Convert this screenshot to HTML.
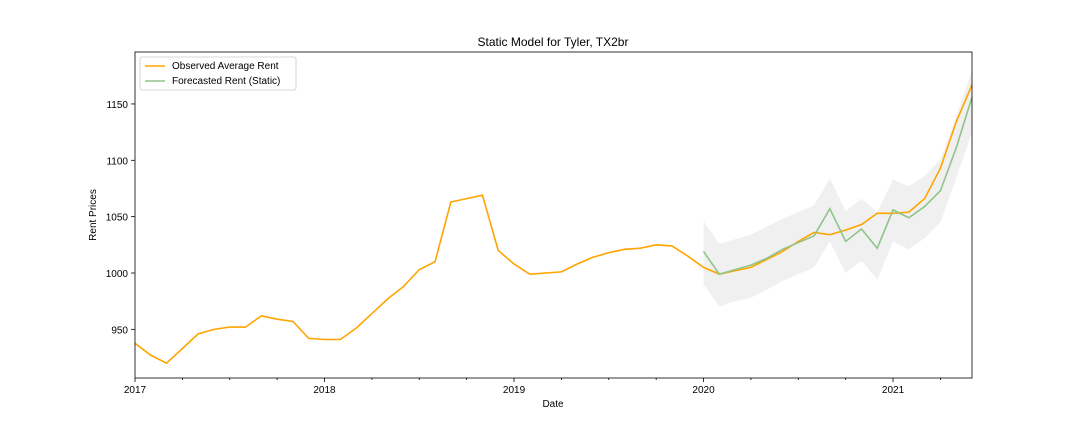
<!DOCTYPE html>
<html><head><meta charset="utf-8"><style>
body{margin:0;background:#fff;}
svg{display:block;font-family:"Liberation Sans","DejaVu Sans",sans-serif;}
</style></head><body>
<svg id="chart" width="1080" height="432"></svg>
<script>
const observed=[937.6,927,920,933,946,950,952,952,962,959,957,942,941,941,951,964,977,988,1003,1010,1063,1066,1069,1020,1008,999,1000,1001,1008,1014,1018,1021,1022,1025,1024,1015,1005,999,1002,1005,1012,1019,1028,1036,1034,1038,1043,1053,1053,1054,1066,1093,1134,1167];
const forecast=[1019,999,1003,1007,1013,1021,1027,1033,1057,1028,1039,1022,1056,1049,1059,1073,1111,1156];
const upper=[1046,1026,1030,1034,1041,1048,1054,1060,1084,1055,1066,1054,1083,1077,1086,1101,1139,1180];
const lower=[990,970,975,978,985,993,999,1005,1028,1000,1011,994,1028,1021,1031,1045,1084,1125];
const forecastStart=36;
const yTicks=[950,1000,1050,1100,1150];
const xYears=["2017","2018","2019","2020","2021"];

const NS="http://www.w3.org/2000/svg";
const svg=document.getElementById('chart');
const L=135,R=972,T=52,B=378;
const x=i=>L+i*(R-L)/53;
const y=v=>273-(v-1000)*1.127;
function el(t,a,p){const e=document.createElementNS(NS,t);for(const k in a)e.setAttribute(k,a[k]);(p||svg).appendChild(e);return e;}

const band=el('path',{d:upper.map((v,i)=>(i?'L':'M')+x(forecastStart+i)+','+y(v)).join('')+lower.map((v,i)=>i).reverse().map(i=>'L'+x(forecastStart+i)+','+y(lower[i])).join('')+'Z',fill:'#ebebeb','fill-opacity':0.75});



const obs=el('path',{d:observed.map((v,i)=>(i?'L':'M')+x(i)+','+y(v)).join(''),fill:'none',stroke:'#ffa500','stroke-width':1.6});


const fc=el('path',{d:forecast.map((v,i)=>(i?'L':'M')+x(forecastStart+i)+','+y(v)).join(''),fill:'none',stroke:'#8fc48a','stroke-width':1.6});



const frame=el('rect',{x:L,y:T,width:R-L,height:B-T,fill:'none',stroke:'#000','stroke-width':0.8});



yTicks.forEach(v=>{
  el('line',{x1:L-4,x2:L,y1:y(v),y2:y(v),stroke:'#000','stroke-width':0.8});
  const t=el('text',{x:L-7,y:y(v)+4,'text-anchor':'end','font-size':10});
  t.textContent=v;
  
  
});
for(let m=0;m<=53;m+=3){
  const major=m%12===0;
  el('line',{x1:x(m),x2:x(m),y1:B,y2:B+(major?4:2),stroke:'#000','stroke-width':0.8});
  if(major){
    const t=el('text',{x:x(m),y:B+15,'text-anchor':'middle','font-size':10});
    t.textContent=xYears[m/12];
    
    
  }
}
const title=el('text',{x:553,y:46,'text-anchor':'middle','font-size':12});
title.textContent='Static Model for Tyler, TX2br';


const xl=el('text',{x:553,y:407,'text-anchor':'middle','font-size':10});
xl.textContent='Date';


const yl=el('text',{x:96,y:215,'text-anchor':'middle','font-size':10,transform:'rotate(-90 96 215)'});
yl.textContent='Rent Prices';



const lg=el('g',{});


el('rect',{x:140,y:57,width:156,height:33,rx:2,fill:'#fff',stroke:'#ccc','stroke-width':0.8},lg);
[['Observed Average Rent','#ffa500'],['Forecasted Rent (Static)','#8fc48a']].forEach((d,i)=>{
  const g=el('g',{},lg);
  
  
  el('line',{x1:145,x2:165,y1:66+i*15,y2:66+i*15,stroke:d[1],'stroke-width':1.6},g);
  const t=el('text',{x:172,y:69+i*15,'font-size':10},g);
  t.textContent=d[0];
});
</script>
</body></html>
